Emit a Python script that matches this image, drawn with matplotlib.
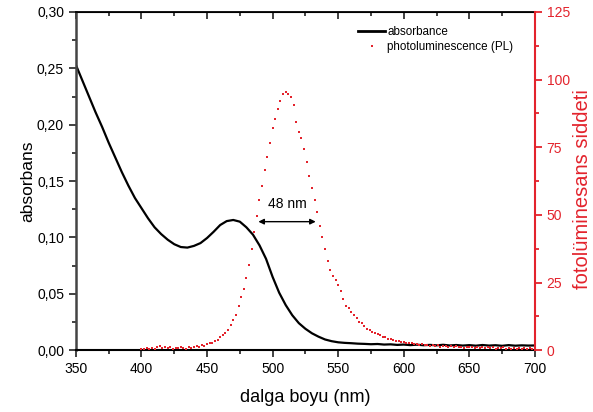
import numpy as np
import matplotlib.pyplot as plt
from matplotlib.lines import Line2D

plt.rcParams['font.family'] = ['Liberation Sans', 'DejaVu Sans']

# absorbans verisi (5 nm adim)
dalga_abs = np.arange(350, 705, 5)
absorbans = [0.253, 0.239, 0.225, 0.211, 0.198, 0.184, 0.171, 0.158, 0.146, 0.135,
             0.126, 0.117, 0.109, 0.103, 0.098, 0.094, 0.0915, 0.091, 0.0925, 0.095,
             0.0995, 0.105, 0.111, 0.1145, 0.1155, 0.114, 0.109, 0.1025, 0.093, 0.081,
             0.065, 0.051, 0.040, 0.031, 0.024, 0.019, 0.015, 0.012, 0.0095, 0.008,
             0.007, 0.0065, 0.0062, 0.0058, 0.0056, 0.0053, 0.0055, 0.0050, 0.0052, 0.0047,
             0.0050, 0.0045, 0.0049, 0.0044, 0.0047, 0.0043, 0.0048, 0.0042, 0.0046, 0.0041,
             0.0045, 0.0040, 0.0046, 0.0041, 0.0044, 0.0039, 0.0045, 0.0040, 0.0043, 0.0041,
             0.0042]

# fotoluminesans verisi (2 nm adim)
dalga_pl = np.arange(400, 702, 2)
pl = [0.5, 0.3, 0.8, 0.4, 0.9, 0.6, 1.1, 1.4, 0.9, 1.2,
      0.8, 1.0, 0.6, 0.9, 0.7, 1.0, 0.8, 0.6, 1.0, 0.9,
      1.1, 1.4, 1.3, 1.8, 1.6, 2.2, 2.8, 2.6, 3.5, 3.9,
      4.8, 5.5, 6.3, 7.4, 9.2, 11.0, 13.0, 16.5, 19.5, 22.5,
      26.5, 31.5, 37.5, 43.5, 49.5, 55.5, 60.5, 66.5, 71.5, 76.5,
      82.0, 85.5, 89.0, 92.0, 94.5, 95.5, 94.5, 93.5, 90.5, 84.5,
      80.5, 78.5, 74.5, 69.5, 64.5, 60.0, 55.5, 51.0, 46.0, 42.0,
      37.5, 33.0, 29.5, 27.5, 26.0, 24.0, 22.0, 19.0, 16.5, 15.5,
      14.0, 13.0, 12.0, 10.5, 10.0, 8.8, 8.0, 7.4, 6.8, 6.5,
      5.9, 5.5, 5.0, 4.9, 4.3, 4.0, 3.7, 3.5, 3.3, 3.0,
      3.2, 2.8, 2.5, 2.7, 2.2, 2.4, 2.0, 2.3, 1.8, 2.1,
      1.6, 1.9, 1.5, 1.8, 1.3, 1.7, 1.4, 1.2, 1.6, 1.1,
      1.4, 1.0, 1.3, 0.9, 1.2, 1.0, 1.3, 0.8, 1.1, 0.9,
      1.2, 0.7, 1.0, 0.8, 1.1, 0.6, 0.9, 0.7, 1.0, 0.6,
      0.8, 0.5, 0.9, 0.6, 0.8, 0.5, 0.7, 0.4, 0.8, 0.5,
      0.6]

kirmizi = '#e3232c'
xticks = [350, 400, 450, 500, 550, 600, 650, 700]
yticks = [0.00, 0.05, 0.10, 0.15, 0.20, 0.25, 0.30]
yticks2 = [0, 25, 50, 75, 100, 125]

fig = plt.figure(figsize=(5.93, 4.12), dpi=100)
ax = fig.add_axes([0.128, 0.150, 0.774, 0.821])
ax.plot(dalga_abs, absorbans, color='black', lw=1.6)
ax.set_xlim(350, 700)
ax.set_ylim(0, 0.30)
ax.set_xticks(xticks)
ax.set_xticks(np.arange(375, 700, 50), minor=True)
ax.set_yticks(yticks)
ax.set_yticklabels([f'{v:.2f}'.replace('.', ',') for v in yticks])
ax.set_yticks(np.arange(0.025, 0.30, 0.05), minor=True)
ax.tick_params(which='both', direction='out', labelsize=10, color='#333333', width=1.3)
ax.tick_params(which='major', length=5)
ax.tick_params(which='minor', length=3)
ax.spines['left'].set_linewidth(1.8)
ax.spines['left'].set_color('#444444')
ax.spines['bottom'].set_linewidth(1.5)
ax.spines['top'].set_linewidth(1.3)
ax.spines['right'].set_visible(False)
ax.set_xlabel('dalga boyu (nm)', fontsize=13, labelpad=9)
ax.set_ylabel('absorbans', fontsize=12.5, labelpad=1)

ust = ax.secondary_xaxis('top')
ust.set_xticks(xticks)
ust.set_xticks(np.arange(375, 700, 50), minor=True)
ust.tick_params(which='both', direction='in', labeltop=False, color='#333333', width=1.3)
ust.tick_params(which='major', length=5)
ust.tick_params(which='minor', length=3)

# 48 nm ok
ax.annotate('', xy=(487, 0.114), xytext=(535, 0.114),
            arrowprops=dict(arrowstyle='<|-|>', color='black', lw=1, mutation_scale=8))
ax.text(511, 0.1235, '48 nm', ha='center', va='bottom', fontsize=10)

ax2 = ax.twinx()
ax2.plot(dalga_pl, pl, linestyle='none', marker='s', ms=2.1, color=kirmizi, mew=0)
ax2.set_ylim(0, 125)
ax2.set_yticks(yticks2)
ax2.set_yticks(np.arange(12.5, 125, 25), minor=True)
ax2.tick_params(which='both', direction='out', colors=kirmizi, labelsize=10, width=1.3)
ax2.tick_params(which='major', length=5)
ax2.tick_params(which='minor', length=3)
for s in ['left', 'top', 'bottom']:
    ax2.spines[s].set_visible(False)
ax2.spines['right'].set_color(kirmizi)
ax2.spines['right'].set_linewidth(1.5)
ax2.set_ylabel('fotolüminesans siddeti', color=kirmizi, fontsize=14.5)
ax2.yaxis.set_label_coords(1.083, 0.475)

handles = [Line2D([], [], color='black', lw=2),
           Line2D([], [], linestyle='none', marker='s', ms=2.1, color=kirmizi, mew=0)]
ax2.legend(handles, ['absorbance', 'photoluminescence (PL)'], loc='upper left',
           bbox_to_anchor=(0.592, 0.99), frameon=False, fontsize=8.4,
           handlelength=2.3, handletextpad=0.2, labelspacing=0.25)

fig.savefig('out.png', dpi=100)
